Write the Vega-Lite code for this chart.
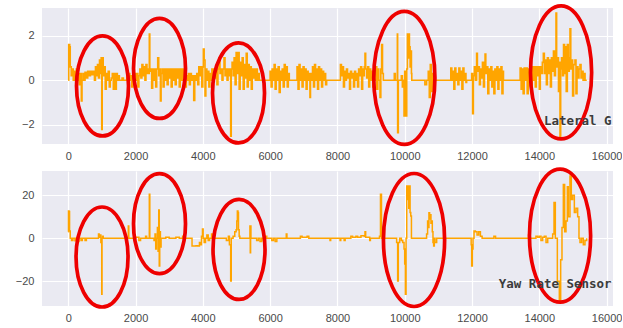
{
"$schema": "https://vega.github.io/schema/vega-lite/v6.json",
"padding": {"left": 15, "top": -2, "right": 0, "bottom": 0},
"bounds": "flush",
"spacing": 27,
"config": {
  "view": {"fill": "#EAEAF2", "stroke": null},
  "axis": {"grid": true, "gridColor": "#ffffff", "gridWidth": 1.2, "domain": false, "ticks": false, "tickSize": 0, "labelColor": "#4a4a4a", "labelFont": "Liberation Sans", "labelFontSize": 11, "title": null},
  "axisX": {"labelPadding": 6},
  "axisY": {"labelPadding": 8}
},
"datasets": {
"lat": [
{"t":0,"v":0},{"t":15,"v":1.6},{"t":45,"v":1.5},{"t":60,"v":0.6},{"t":90,"v":0.2},{"t":120,"v":0.5},{"t":150,"v":0},{"t":180,"v":0.4},{"t":210,"v":0.1},{"t":240,"v":0.5},{"t":270,"v":0},{"t":300,"v":0.3},{"t":330,"v":-0.2},{"t":360,"v":0.3},{"t":390,"v":-0.93},{"t":410,"v":0},{"t":440,"v":0.3},{"t":470,"v":0},{"t":500,"v":0.35},{"t":540,"v":0.1},{"t":580,"v":0.4},{"t":620,"v":0.2},{"t":660,"v":0.4},{"t":700,"v":0.25},{"t":740,"v":0.4},{"t":780,"v":0},{"t":810,"v":0.6},{"t":840,"v":0.2},{"t":870,"v":0.7},{"t":900,"v":0.1},{"t":930,"v":0.9},{"t":960,"v":0.3},{"t":980,"v":1.0},{"t":996,"v":-2.2},{"t":1010,"v":1.0},{"t":1040,"v":0.2},{"t":1070,"v":0.6},{"t":1100,"v":-0.4},{"t":1130,"v":0.3},{"t":1160,"v":0},{"t":1190,"v":0.4},{"t":1220,"v":-0.3},{"t":1250,"v":0},{"t":1280,"v":0.1},{"t":1310,"v":0.3},{"t":1340,"v":-0.4},{"t":1370,"v":0.3},{"t":1400,"v":-0.4},{"t":1430,"v":0.3},{"t":1460,"v":0},{"t":1490,"v":0.2},{"t":1520,"v":0},{"t":1560,"v":0},{"t":1600,"v":0.1},{"t":1640,"v":0},{"t":1700,"v":0},{"t":1740,"v":0.4},{"t":1770,"v":-0.2},{"t":1800,"v":0.3},{"t":1830,"v":0},{"t":1860,"v":0.2},{"t":1890,"v":-0.3},{"t":1920,"v":0.3},{"t":1950,"v":-0.2},{"t":1980,"v":0.3},{"t":2010,"v":0},{"t":2040,"v":0.3},{"t":2070,"v":-0.3},{"t":2100,"v":0.2},{"t":2130,"v":0.5},{"t":2160,"v":0.1},{"t":2190,"v":0.7},{"t":2220,"v":0.2},{"t":2250,"v":0.6},{"t":2280,"v":0},{"t":2310,"v":0.7},{"t":2340,"v":0.3},{"t":2370,"v":0.5},{"t":2395,"v":0.3},{"t":2410,"v":2.06},{"t":2425,"v":0.4},{"t":2450,"v":0.5},{"t":2480,"v":-0.35},{"t":2510,"v":0.5},{"t":2540,"v":0},{"t":2570,"v":0.5},{"t":2600,"v":-0.3},{"t":2630,"v":0.5},{"t":2660,"v":1.0},{"t":2690,"v":0.2},{"t":2720,"v":0.5},{"t":2740,"v":-0.93},{"t":2760,"v":0.3},{"t":2790,"v":0.5},{"t":2820,"v":-0.3},{"t":2850,"v":0.5},{"t":2880,"v":0},{"t":2910,"v":0.5},{"t":2940,"v":-0.2},{"t":2970,"v":0.5},{"t":3000,"v":0.1},{"t":3030,"v":0.5},{"t":3060,"v":-0.3},{"t":3090,"v":0.5},{"t":3120,"v":0},{"t":3150,"v":0.5},{"t":3180,"v":-0.2},{"t":3210,"v":0.5},{"t":3240,"v":0.1},{"t":3270,"v":0.5},{"t":3300,"v":-0.3},{"t":3330,"v":0.5},{"t":3360,"v":0},{"t":3390,"v":0.5},{"t":3420,"v":0.1},{"t":3450,"v":0.3},{"t":3480,"v":-0.3},{"t":3510,"v":0.2},{"t":3540,"v":0},{"t":3570,"v":0.3},{"t":3600,"v":-0.2},{"t":3630,"v":0.3},{"t":3660,"v":0},{"t":3700,"v":0.2},{"t":3730,"v":-0.9},{"t":3760,"v":0.2},{"t":3790,"v":0},{"t":3820,"v":0.3},{"t":3850,"v":-0.2},{"t":3880,"v":0.6},{"t":3910,"v":0.2},{"t":3940,"v":0.6},{"t":3970,"v":-0.3},{"t":4000,"v":0.6},{"t":4016,"v":1.4},{"t":4040,"v":0.9},{"t":4066,"v":-0.7},{"t":4090,"v":0.5},{"t":4120,"v":0},{"t":4150,"v":0.4},{"t":4180,"v":-0.3},{"t":4210,"v":0.3},{"t":4240,"v":0},{"t":4270,"v":0.5},{"t":4300,"v":0.1},{"t":4330,"v":0.5},{"t":4360,"v":0.1},{"t":4390,"v":0.5},{"t":4420,"v":-0.2},{"t":4450,"v":0.5},{"t":4480,"v":1.0},{"t":4510,"v":0.3},{"t":4540,"v":0.5},{"t":4570,"v":0},{"t":4600,"v":0.5},{"t":4630,"v":1.0},{"t":4660,"v":0.2},{"t":4690,"v":0.5},{"t":4720,"v":0},{"t":4750,"v":0.5},{"t":4780,"v":0.2},{"t":4810,"v":0.5},{"t":4828,"v":-2.5},{"t":4845,"v":0.5},{"t":4870,"v":0.8},{"t":4900,"v":0.2},{"t":4930,"v":1.0},{"t":4960,"v":-0.2},{"t":4990,"v":1.24},{"t":5020,"v":0.3},{"t":5050,"v":1.24},{"t":5080,"v":-0.4},{"t":5110,"v":0.8},{"t":5140,"v":0.2},{"t":5170,"v":1.0},{"t":5200,"v":-0.4},{"t":5230,"v":0.7},{"t":5260,"v":0.1},{"t":5290,"v":1.2},{"t":5320,"v":-0.3},{"t":5350,"v":0.7},{"t":5380,"v":0},{"t":5410,"v":0.6},{"t":5440,"v":-0.4},{"t":5470,"v":0.5},{"t":5500,"v":0.1},{"t":5530,"v":0.5},{"t":5560,"v":0},{"t":5590,"v":0.5},{"t":5620,"v":0},{"t":5650,"v":0.3},{"t":5680,"v":0},{"t":5980,"v":0},{"t":6000,"v":0.4},{"t":6030,"v":-0.3},{"t":6060,"v":0.5},{"t":6090,"v":0},{"t":6120,"v":0.7},{"t":6150,"v":-0.4},{"t":6180,"v":0.5},{"t":6210,"v":0},{"t":6240,"v":0.6},{"t":6270,"v":-0.55},{"t":6300,"v":0.4},{"t":6330,"v":0},{"t":6360,"v":0.5},{"t":6390,"v":-0.3},{"t":6420,"v":0.7},{"t":6450,"v":0},{"t":6480,"v":0.6},{"t":6510,"v":-0.3},{"t":6540,"v":0.3},{"t":6570,"v":0},{"t":6790,"v":0},{"t":6800,"v":0.6},{"t":6830,"v":-0.4},{"t":6860,"v":0.7},{"t":6890,"v":0},{"t":6920,"v":0.5},{"t":6950,"v":-0.3},{"t":6980,"v":0.6},{"t":7010,"v":0},{"t":7040,"v":0.5},{"t":7070,"v":-0.4},{"t":7100,"v":0.4},{"t":7130,"v":0},{"t":7160,"v":0.3},{"t":7184,"v":-0.77},{"t":7200,"v":0.3},{"t":7230,"v":0},{"t":7260,"v":0.6},{"t":7290,"v":-0.3},{"t":7320,"v":0.7},{"t":7350,"v":0},{"t":7380,"v":0.5},{"t":7410,"v":-0.4},{"t":7440,"v":0.6},{"t":7470,"v":0},{"t":7500,"v":0.5},{"t":7530,"v":-0.3},{"t":7560,"v":0.4},{"t":7590,"v":0},{"t":7620,"v":0.3},{"t":7650,"v":-0.2},{"t":7680,"v":0},{"t":8075,"v":0},{"t":8090,"v":0.7},{"t":8120,"v":0.2},{"t":8150,"v":0.6},{"t":8180,"v":-0.3},{"t":8210,"v":0.4},{"t":8240,"v":0},{"t":8270,"v":0.5},{"t":8300,"v":0.1},{"t":8330,"v":0.3},{"t":8360,"v":-0.4},{"t":8390,"v":0.4},{"t":8420,"v":0.1},{"t":8450,"v":0.3},{"t":8480,"v":-0.3},{"t":8510,"v":0.4},{"t":8540,"v":0},{"t":8570,"v":0.3},{"t":8600,"v":-0.3},{"t":8630,"v":0.5},{"t":8660,"v":0.2},{"t":8690,"v":0.6},{"t":8720,"v":-0.4},{"t":8750,"v":0.5},{"t":8780,"v":0.2},{"t":8800,"v":0.6},{"t":8820,"v":1.2},{"t":8840,"v":0.5},{"t":8870,"v":0.1},{"t":8900,"v":0.6},{"t":8930,"v":-0.3},{"t":8960,"v":0.5},{"t":8990,"v":0},{"t":9020,"v":0.4},{"t":9050,"v":-0.3},{"t":9080,"v":0.3},{"t":9110,"v":0},{"t":9140,"v":0.6},{"t":9170,"v":-0.4},{"t":9200,"v":0.5},{"t":9230,"v":0},{"t":9266,"v":-0.77},{"t":9290,"v":0.5},{"t":9315,"v":1.6},{"t":9340,"v":0.3},{"t":9365,"v":0},{"t":9650,"v":0},{"t":9690,"v":0.3},{"t":9720,"v":0},{"t":9770,"v":0},{"t":9781,"v":2.06},{"t":9790,"v":-2.34},{"t":9810,"v":0},{"t":9860,"v":0},{"t":9900,"v":0.2},{"t":9930,"v":-0.3},{"t":9960,"v":0},{"t":9980,"v":-1.6},{"t":10000,"v":0.4},{"t":10030,"v":-1.6},{"t":10060,"v":0.5},{"t":10080,"v":2.06},{"t":10100,"v":1.0},{"t":10120,"v":2.06},{"t":10140,"v":1.5},{"t":10160,"v":0.6},{"t":10180,"v":1.3},{"t":10200,"v":0.3},{"t":10210,"v":0},{"t":10600,"v":-0.2},{"t":10650,"v":0},{"t":10700,"v":0.4},{"t":10730,"v":-0.77},{"t":10760,"v":0.7},{"t":10790,"v":-0.5},{"t":10820,"v":0.3},{"t":10850,"v":0},{"t":11345,"v":0},{"t":11370,"v":0.55},{"t":11400,"v":0},{"t":11430,"v":0.4},{"t":11460,"v":-0.4},{"t":11490,"v":0.55},{"t":11520,"v":0},{"t":11550,"v":0.3},{"t":11580,"v":-0.2},{"t":11610,"v":0.55},{"t":11640,"v":0},{"t":11670,"v":0.4},{"t":11700,"v":-0.4},{"t":11730,"v":0.55},{"t":11760,"v":0},{"t":11790,"v":0.3},{"t":11820,"v":-0.1},{"t":11840,"v":0},{"t":11960,"v":0},{"t":11990,"v":0.3},{"t":12018,"v":-1.5},{"t":12040,"v":0.2},{"t":12070,"v":0.6},{"t":12100,"v":0},{"t":12137,"v":1.2},{"t":12160,"v":0.4},{"t":12190,"v":0.6},{"t":12220,"v":-0.2},{"t":12250,"v":0.5},{"t":12280,"v":0.1},{"t":12310,"v":0.8},{"t":12340,"v":-0.3},{"t":12370,"v":0.6},{"t":12388,"v":1.17},{"t":12410,"v":0.3},{"t":12440,"v":0.6},{"t":12470,"v":-0.6},{"t":12500,"v":0.5},{"t":12530,"v":0},{"t":12560,"v":0.6},{"t":12590,"v":-0.3},{"t":12620,"v":0.4},{"t":12650,"v":-0.6},{"t":12680,"v":0.5},{"t":12710,"v":0},{"t":12740,"v":0.6},{"t":12770,"v":-0.4},{"t":12800,"v":0.5},{"t":12830,"v":0},{"t":12860,"v":0.6},{"t":12890,"v":-0.6},{"t":12920,"v":0.4},{"t":12935,"v":0},{"t":13400,"v":0},{"t":13430,"v":0.55},{"t":13460,"v":-0.4},{"t":13490,"v":0.5},{"t":13520,"v":-0.6},{"t":13550,"v":0.55},{"t":13580,"v":0},{"t":13610,"v":0.55},{"t":13640,"v":-0.6},{"t":13670,"v":0.5},{"t":13700,"v":0},{"t":13730,"v":0.8},{"t":13760,"v":-0.6},{"t":13790,"v":0.6},{"t":13820,"v":0},{"t":13850,"v":0.6},{"t":13880,"v":-0.3},{"t":13910,"v":0.6},{"t":13940,"v":0.2},{"t":13970,"v":0.6},{"t":14000,"v":-0.4},{"t":14030,"v":0.6},{"t":14060,"v":0.3},{"t":14090,"v":0.8},{"t":14120,"v":1.2},{"t":14150,"v":0.3},{"t":14180,"v":0.9},{"t":14210,"v":-0.2},{"t":14240,"v":1.0},{"t":14270,"v":0.3},{"t":14300,"v":0.9},{"t":14330,"v":-0.3},{"t":14360,"v":1.0},{"t":14390,"v":0.4},{"t":14420,"v":1.3},{"t":14450,"v":0.2},{"t":14480,"v":0.8},{"t":14496,"v":3.0},{"t":14515,"v":0.6},{"t":14540,"v":1.0},{"t":14570,"v":-0.5},{"t":14600,"v":0.8},{"t":14615,"v":-2.57},{"t":14635,"v":0.5},{"t":14660,"v":1.0},{"t":14690,"v":0.2},{"t":14720,"v":1.6},{"t":14750,"v":0.3},{"t":14780,"v":1.5},{"t":14800,"v":-0.5},{"t":14833,"v":1.6},{"t":14860,"v":0.4},{"t":14890,"v":1.0},{"t":14912,"v":2.3},{"t":14935,"v":0.5},{"t":14960,"v":0.9},{"t":14990,"v":-0.7},{"t":15020,"v":0.7},{"t":15060,"v":0.9},{"t":15090,"v":-0.6},{"t":15120,"v":0.6},{"t":15150,"v":0.1},{"t":15180,"v":0.5},{"t":15209,"v":0.7},{"t":15240,"v":0.1},{"t":15270,"v":0.4},{"t":15300,"v":0},{"t":15330,"v":0.3},{"t":15360,"v":0},{"t":15410,"v":0}
],
"yaw": [
{"t":0,"v":3},{"t":8,"v":12.7},{"t":25,"v":12.5},{"t":40,"v":3.4},{"t":60,"v":0},{"t":100,"v":-1},{"t":140,"v":0},{"t":200,"v":-1.2},{"t":230,"v":0},{"t":280,"v":-1.5},{"t":320,"v":0},{"t":380,"v":-1},{"t":420,"v":0},{"t":500,"v":-1},{"t":540,"v":0},{"t":850,"v":0},{"t":900,"v":2},{"t":920,"v":0.5},{"t":950,"v":1.5},{"t":970,"v":-2},{"t":985,"v":0},{"t":996,"v":-26},{"t":1005,"v":0},{"t":1020,"v":1},{"t":1040,"v":0},{"t":1770,"v":0},{"t":1786,"v":5.7},{"t":1800,"v":0},{"t":1900,"v":0},{"t":2000,"v":0.5},{"t":2100,"v":-1},{"t":2150,"v":0},{"t":2300,"v":1},{"t":2330,"v":0},{"t":2395,"v":0},{"t":2410,"v":20.5},{"t":2425,"v":0},{"t":2500,"v":0},{"t":2550,"v":-1},{"t":2580,"v":2},{"t":2600,"v":-5},{"t":2620,"v":0},{"t":2650,"v":5},{"t":2670,"v":-6},{"t":2690,"v":13.2},{"t":2705,"v":-12.9},{"t":2720,"v":3},{"t":2740,"v":-4},{"t":2760,"v":0},{"t":2900,"v":0.5},{"t":3000,"v":0},{"t":3200,"v":0.5},{"t":3300,"v":0},{"t":3400,"v":1},{"t":3450,"v":0},{"t":3650,"v":0},{"t":3680,"v":-3.6},{"t":3800,"v":-3.5},{"t":3850,"v":-3.6},{"t":3900,"v":-2},{"t":3930,"v":-3},{"t":3960,"v":1},{"t":3990,"v":4.3},{"t":4010,"v":0},{"t":4040,"v":-2},{"t":4080,"v":0},{"t":4120,"v":1.5},{"t":4160,"v":-1},{"t":4200,"v":0},{"t":4260,"v":2},{"t":4290,"v":0},{"t":4500,"v":0},{"t":4700,"v":-1},{"t":4760,"v":1},{"t":4790,"v":-3},{"t":4828,"v":-19.9},{"t":4845,"v":0},{"t":4900,"v":1},{"t":4950,"v":3},{"t":4990,"v":4},{"t":5010,"v":8},{"t":5026,"v":12.7},{"t":5045,"v":12},{"t":5060,"v":4},{"t":5080,"v":1},{"t":5100,"v":0},{"t":5380,"v":0},{"t":5400,"v":5.7},{"t":5410,"v":-6.7},{"t":5420,"v":5.7},{"t":5430,"v":0},{"t":5550,"v":0},{"t":5600,"v":-1},{"t":5650,"v":0},{"t":5700,"v":-1.5},{"t":5750,"v":0},{"t":5800,"v":-1},{"t":5850,"v":1},{"t":5900,"v":0},{"t":6050,"v":-1},{"t":6100,"v":0},{"t":6150,"v":-1.5},{"t":6200,"v":0},{"t":6480,"v":2},{"t":6500,"v":0},{"t":6900,"v":1},{"t":6950,"v":0.5},{"t":7100,"v":1},{"t":7150,"v":0},{"t":7780,"v":-1},{"t":7800,"v":0},{"t":8080,"v":-1},{"t":8100,"v":0},{"t":8200,"v":-1},{"t":8230,"v":0},{"t":8400,"v":1},{"t":8450,"v":0.5},{"t":8550,"v":1},{"t":8600,"v":0.5},{"t":8700,"v":1.2},{"t":8800,"v":1},{"t":8820,"v":3},{"t":8840,"v":0.5},{"t":8960,"v":-1},{"t":8980,"v":0},{"t":9200,"v":0},{"t":9250,"v":1},{"t":9280,"v":20.5},{"t":9300,"v":20.5},{"t":9310,"v":0},{"t":9700,"v":0},{"t":9760,"v":-2},{"t":9790,"v":-19.9},{"t":9810,"v":-2},{"t":9850,"v":0},{"t":9900,"v":-1},{"t":9940,"v":-2},{"t":9980,"v":-5},{"t":10000,"v":-12},{"t":10020,"v":-26},{"t":10040,"v":0},{"t":10060,"v":24.3},{"t":10080,"v":18},{"t":10100,"v":24.3},{"t":10120,"v":14},{"t":10140,"v":24.3},{"t":10160,"v":12},{"t":10180,"v":10.4},{"t":10200,"v":0},{"t":10620,"v":0},{"t":10650,"v":2},{"t":10680,"v":8},{"t":10700,"v":5},{"t":10720,"v":11.9},{"t":10740,"v":9},{"t":10760,"v":11},{"t":10780,"v":7},{"t":10800,"v":8},{"t":10820,"v":3},{"t":10840,"v":-2},{"t":10860,"v":-3.6},{"t":10880,"v":0},{"t":10900,"v":-2},{"t":10950,"v":0},{"t":11960,"v":0},{"t":11975,"v":-3},{"t":11990,"v":-12.9},{"t":12010,"v":-5},{"t":12030,"v":0},{"t":12060,"v":3.4},{"t":12100,"v":3},{"t":12150,"v":1.5},{"t":12200,"v":3},{"t":12250,"v":1},{"t":12300,"v":0},{"t":12600,"v":0},{"t":12650,"v":1},{"t":12700,"v":0},{"t":13650,"v":0},{"t":13680,"v":1.5},{"t":13720,"v":0},{"t":13800,"v":0},{"t":13900,"v":1},{"t":13950,"v":0.5},{"t":14000,"v":1},{"t":14050,"v":-1},{"t":14100,"v":0.5},{"t":14150,"v":1},{"t":14200,"v":-2},{"t":14250,"v":0},{"t":14318,"v":0},{"t":14397,"v":2},{"t":14437,"v":16.6},{"t":14476,"v":0},{"t":14536,"v":-20},{"t":14595,"v":-29},{"t":14635,"v":-10},{"t":14674,"v":5},{"t":14714,"v":25},{"t":14753,"v":3},{"t":14793,"v":8},{"t":14833,"v":24},{"t":14862,"v":10},{"t":14912,"v":29},{"t":14951,"v":18},{"t":14991,"v":20},{"t":15041,"v":12},{"t":15090,"v":14},{"t":15140,"v":10},{"t":15179,"v":0},{"t":15209,"v":-2},{"t":15258,"v":0},{"t":15308,"v":-3},{"t":15357,"v":-1},{"t":15407,"v":0}
],
"ell": [
{"panel":"top","kind":"small","t":1019,"v":-0.255},
{"panel":"top","kind":"small","t":2713,"v":0.528},
{"panel":"top","kind":"small","t":5061,"v":-0.568},
{"panel":"top","kind":"large","t":9989,"v":0.103},
{"panel":"top","kind":"large","t":14646,"v":0.349},
{"panel":"bottom","kind":"small","t":1005,"v":-8.7},
{"panel":"bottom","kind":"small","t":2713,"v":6.8},
{"panel":"bottom","kind":"small","t":5076,"v":-5.2},
{"panel":"bottom","kind":"large","t":10277,"v":-0.8},
{"panel":"bottom","kind":"large","t":14616,"v":1.2}
],
"labels": [
{"panel":"top","t":16150,"v":-1.82,"label":"Lateral G"},
{"panel":"bottom","t":16150,"v":-21.4,"label":"Yaw Rate Sensor"}
]
},
"vconcat": [
{
"width": 571, "height": 136,
"encoding": {
  "x": {"field": "t", "type": "quantitative", "scale": {"domain": [-779, 16190], "nice": false, "zero": false}, "axis": {"values": [0,2000,4000,6000,8000,10000,12000,14000,16000], "format": "d"}},
  "y": {"field": "v", "type": "quantitative", "scale": {"domain": [-2.85, 3.23], "nice": false, "zero": false}, "axis": {"values": [-2,0,2]}}
},
"layer": [
  {"data": {"name": "lat"}, "mark": {"type": "line", "color": "#FFA500", "strokeWidth": 1.6, "interpolate": "step-after"}},
  {"data": {"name": "ell"}, "transform": [{"filter": "datum.panel === 'top' && datum.kind === 'small'"}], "mark": {"type": "point", "filled": false, "stroke": "#EE0000", "strokeWidth": 3.7, "opacity": 1, "size": 10000, "shape": "M0,-1C0.287,-1,0.52,-0.552,0.52,0C0.52,0.552,0.287,1,0,1C-0.287,1,-0.52,0.552,-0.52,0C-0.52,-0.552,-0.287,-1,0,-1Z"}},
  {"data": {"name": "ell"}, "transform": [{"filter": "datum.panel === 'top' && datum.kind === 'large'"}], "mark": {"type": "point", "filled": false, "stroke": "#EE0000", "strokeWidth": 3.7, "opacity": 1, "size": 17689, "shape": "M0,-1C0.254,-1,0.46,-0.552,0.46,0C0.46,0.552,0.254,1,0,1C-0.254,1,-0.46,0.552,-0.46,0C-0.46,-0.552,-0.254,-1,0,-1Z"}},
  {"data": {"name": "labels"}, "transform": [{"filter": "datum.panel === 'top'"}], "mark": {"type": "text", "align": "right", "baseline": "middle", "font": "DejaVu Sans Mono", "fontSize": 12.5, "fontWeight": "bold", "color": "#3c3c3c"}, "encoding": {"text": {"field": "label"}}}
]
},
{
"width": 571, "height": 135,
"encoding": {
  "x": {"field": "t", "type": "quantitative", "scale": {"domain": [-779, 16190], "nice": false, "zero": false}, "axis": {"values": [0,2000,4000,6000,8000,10000,12000,14000,16000], "format": "d"}},
  "y": {"field": "v", "type": "quantitative", "scale": {"domain": [-31.5, 31.3], "nice": false, "zero": false}, "axis": {"values": [-20,0,20]}}
},
"layer": [
  {"data": {"name": "yaw"}, "mark": {"type": "line", "color": "#FFA500", "strokeWidth": 1.5, "interpolate": "step-after"}},
  {"data": {"name": "ell"}, "transform": [{"filter": "datum.panel === 'bottom' && datum.kind === 'small'"}], "mark": {"type": "point", "filled": false, "stroke": "#EE0000", "strokeWidth": 3.7, "opacity": 1, "size": 10000, "shape": "M0,-1C0.287,-1,0.52,-0.552,0.52,0C0.52,0.552,0.287,1,0,1C-0.287,1,-0.52,0.552,-0.52,0C-0.52,-0.552,-0.287,-1,0,-1Z"}},
  {"data": {"name": "ell"}, "transform": [{"filter": "datum.panel === 'bottom' && datum.kind === 'large'"}], "mark": {"type": "point", "filled": false, "stroke": "#EE0000", "strokeWidth": 3.7, "opacity": 1, "size": 17689, "shape": "M0,-1C0.254,-1,0.46,-0.552,0.46,0C0.46,0.552,0.254,1,0,1C-0.254,1,-0.46,0.552,-0.46,0C-0.46,-0.552,-0.254,-1,0,-1Z"}},
  {"data": {"name": "labels"}, "transform": [{"filter": "datum.panel === 'bottom'"}], "mark": {"type": "text", "align": "right", "baseline": "middle", "font": "DejaVu Sans Mono", "fontSize": 12.5, "fontWeight": "bold", "color": "#3c3c3c"}, "encoding": {"text": {"field": "label"}}}
]
}
]
}
